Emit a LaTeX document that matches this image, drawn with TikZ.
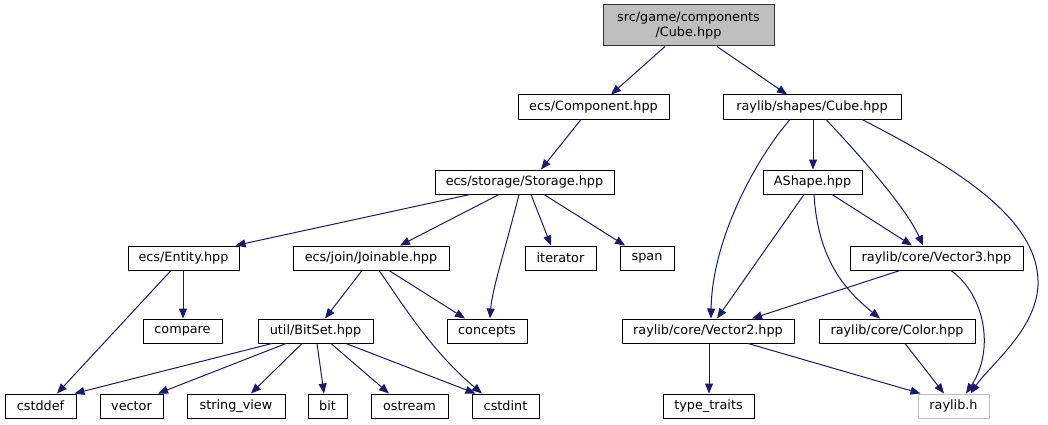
\documentclass[tikz,border=0pt]{standalone}
\usepackage{fontspec}
\setmainfont{DejaVu Sans}
\usetikzlibrary{arrows.meta}
\definecolor{edgec}{HTML}{191970}
\definecolor{topfill}{HTML}{BFBFBF}
\definecolor{extborder}{HTML}{BFBFBF}
\tikzset{
  box/.style={draw=black, line width=1pt, rectangle, minimum height=24pt, inner sep=0pt,
    font=\fontsize{12.8}{15}\selectfont, text=black, fill=white},
  dep/.style={draw=edgec, line width=1pt, -{Triangle[length=10pt,width=8pt]}},
}
\begin{document}
\begin{tikzpicture}[x=1pt,y=-1pt]
\useasboundingbox (0,0) rectangle (1048,425);
% row 0
\node[box, fill=topfill, draw=black!80, minimum width=171pt, minimum height=41pt, align=center] (top) at (688.5,25.5) {src/game/components\\/Cube.hpp};
% row 1
\node[box, minimum width=151pt] (comp) at (593.5,107) {ecs/Component.hpp};
\node[box, minimum width=178pt] (shapes) at (812,107) {raylib/shapes/Cube.hpp};
% row 2
\node[box, minimum width=179pt] (storage) at (524.5,182) {ecs/storage/Storage.hpp};
\node[box, minimum width=99pt] (ashape) at (812.5,182) {AShape.hpp};
% row 3
\node[box, minimum width=111pt] (entity) at (183.5,258) {ecs/Entity.hpp};
\node[box, minimum width=156pt] (joinable) at (371,258) {ecs/join/Joinable.hpp};
\node[box, minimum width=71pt] (iterator) at (560.5,258) {iterator};
\node[box, minimum width=54pt] (span) at (647,258) {span};
\node[box, minimum width=173pt] (vector3) at (936.5,258) {raylib/core/Vector3.hpp};
% row 4
\node[box, minimum width=79pt] (compare) at (182.5,331) {compare};
\node[box, minimum width=115pt] (bitset) at (315.5,331) {util/BitSet.hpp};
\node[box, minimum width=80pt] (concepts) at (487,331) {concepts};
\node[box, minimum width=172pt] (vector2) at (708,331) {raylib/core/Vector2.hpp};
\node[box, minimum width=156pt] (color) at (897,331) {raylib/core/Color.hpp};
% row 5
\node[box, minimum width=71pt] (cstddef) at (40.5,406) {cstddef};
\node[box, minimum width=63pt] (vector) at (131.5,406) {vector};
\node[box, minimum width=98pt] (stringview) at (236,406) {string\_view};
\node[box, minimum width=39pt] (bit) at (327.5,406) {bit};
\node[box, minimum width=77pt] (ostream) at (409.5,406) {ostream};
\node[box, minimum width=67pt] (cstdint) at (505.5,406) {cstdint};
\node[box, minimum width=91pt] (typetraits) at (708.5,406) {type\_traits};
\node[box, draw=extborder, minimum width=71pt] (raylibh) at (953.5,406) {raylib.h};

% edges
\draw[dep] ([xshift=-23.5pt]top.south) -- ([xshift=17.5pt]comp.north);
\draw[dep] ([xshift=28.5pt]top.south) -- ([xshift=-25pt]shapes.north);
\draw[dep] ([xshift=-12.5pt]comp.south) -- ([xshift=16.5pt]storage.north);

\draw[dep] ([xshift=-54.5pt]storage.south) -- ([xshift=52pt]entity.north);
\draw[dep] ([xshift=-25.5pt]storage.south) -- ([xshift=29pt]joinable.north);
\draw[dep] ([xshift=-5.5pt]storage.south) .. controls (505,250) and (492,290) .. ([xshift=3pt]concepts.north);
\draw[dep] ([xshift=6.5pt]storage.south) -- ([xshift=-9.5pt]iterator.north);
\draw[dep] ([xshift=19.5pt]storage.south) -- ([xshift=-22pt]span.north);

\draw[dep] ([xshift=-0.5pt]entity.south) -- ([xshift=0.5pt]compare.north);
\draw[dep] ([xshift=-12.5pt]entity.south) -- ([xshift=16.5pt]cstddef.north);

\draw[dep] ([xshift=-9pt]joinable.south) -- ([xshift=9.5pt]bitset.north);
\draw[dep] ([xshift=18pt]joinable.south) -- ([xshift=-22pt]concepts.north);
\draw[dep] ([xshift=8pt]joinable.south) .. controls (400,300) and (430,350) .. ([xshift=-23.5pt]cstdint.north);

\draw[dep] ([xshift=-43.5pt]bitset.south) -- ([xshift=-2pt]cstddef.north east);
\draw[dep] ([xshift=-29.5pt]bitset.south) -- ([xshift=26.5pt]vector.north);
\draw[dep] ([xshift=-13.5pt]bitset.south) -- ([xshift=15pt]stringview.north);
\draw[dep] ([xshift=1.5pt]bitset.south) -- ([xshift=-3.5pt]bit.north);
\draw[dep] ([xshift=15.5pt]bitset.south) -- ([xshift=-20.5pt]ostream.north);
\draw[dep] ([xshift=30.5pt]bitset.south) -- ([xshift=-30pt]cstdint.north);

\draw[dep] ([xshift=1pt]shapes.south) -- ([xshift=0.5pt]ashape.north);
\draw[dep] ([xshift=-22pt]shapes.south) .. controls (755,160) and (712,240) .. ([xshift=3pt]vector2.north);
\draw[dep] ([xshift=14pt]shapes.south) .. controls (850,145) and (905,205) .. ([xshift=-13.5pt]vector3.north);
\draw[dep] ([xshift=50pt]shapes.south) .. controls (960,170) and (1040,220) .. (1038,285) .. controls (1036,330) and (990,365) .. ([xshift=17pt]raylibh.north);

\draw[dep] ([xshift=-8.5pt]ashape.south) -- ([xshift=9pt]vector2.north);
\draw[dep] ([xshift=19.5pt]ashape.south) -- ([xshift=-24.5pt]vector3.north);
\draw[dep] ([xshift=1.5pt]ashape.south) .. controls (818,260) and (845,290) .. ([xshift=-17pt]color.north);

\draw[dep] ([xshift=-36.5pt]vector3.south) -- ([xshift=44pt]vector2.north);
\draw[dep] ([xshift=14.5pt]vector3.south) .. controls (985,295) and (995,350) .. ([xshift=12.5pt]raylibh.north);

\draw[dep] ([xshift=1pt]vector2.south) -- ([xshift=0.5pt]typetraits.north);
\draw[dep] ([xshift=40pt]vector2.south) -- ([xshift=-33pt]raylibh.north);
\draw[dep] ([xshift=8pt]color.south) -- ([xshift=-9.5pt]raylibh.north);
\end{tikzpicture}
\end{document}
